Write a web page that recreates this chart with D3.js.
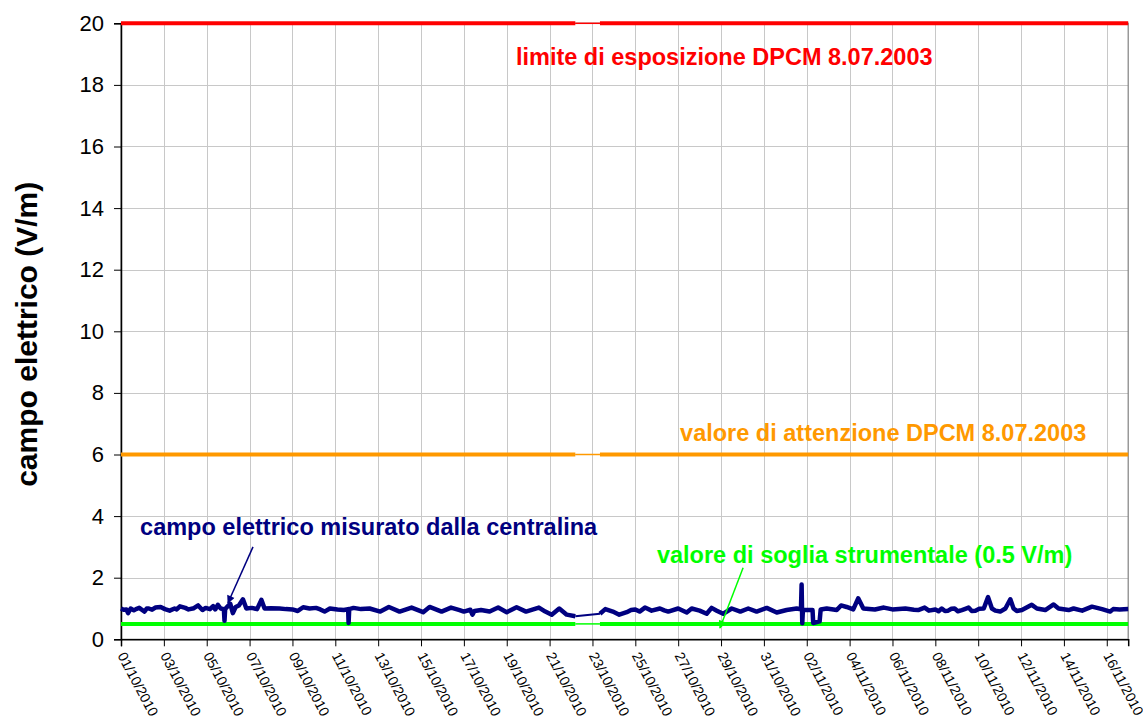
<!DOCTYPE html>
<html><head><meta charset="utf-8">
<script src="https://cdn.jsdelivr.net/npm/d3@7"></script>
<style>body{margin:0;background:#fff} text{font-family:"Liberation Sans",Arial,Helvetica,sans-serif}</style>
</head><body><svg id="chart" width="1143" height="724"></svg>
<script>
// ---- data ----
const startDate = "01/10/2010";
const endDay = 47; // axis ends at 17/11/2010 00:00
const tickLabels = ["01/10/2010","03/10/2010","05/10/2010","07/10/2010","09/10/2010","11/10/2010",
  "13/10/2010","15/10/2010","17/10/2010","19/10/2010","21/10/2010","23/10/2010","25/10/2010",
  "27/10/2010","29/10/2010","31/10/2010","02/11/2010","04/11/2010","06/11/2010","08/11/2010",
  "10/11/2010","12/11/2010","14/11/2010","16/11/2010"];
const yTicks = [0,2,4,6,8,10,12,14,16,18,20];

// measured field (days since 01/10/2010 00:00, V/m)
const fieldDays = [0,0.12,0.25,0.33,0.45,0.6,0.7,0.85,0.95,1.1,1.2,1.3,1.45,1.6,1.85,2.05,2.27,2.5,2.6,2.75,3.0,3.15,3.4,3.6,3.8,3.95,
  4.15,4.3,4.4,4.52,4.65,4.8,4.83,4.86,4.95,5.1,5.22,5.35,5.5,5.69,5.85,6.1,6.35,6.55,6.7,7.0,7.4,7.7,8.0,8.25,8.5,
  8.8,9.1,9.3,9.5,9.75,10.1,10.4,10.6,10.62,10.65,10.85,11.2,11.6,12.1,12.5,13.0,13.56,14.1,14.4,14.96,15.4,
  15.8,16.0,16.3,16.4,16.5,16.8,17.2,17.6,18.0,18.46,18.9,19.5,19.8,20.1,20.45,20.8,21.2,
  22.35,22.6,22.95,23.25,23.6,23.8,24.0,24.2,24.45,24.76,25.15,25.35,25.54,26.0,26.4,26.63,27.0,27.33,27.56,27.8,28.1,28.5,
  28.9,29.27,29.66,30.13,30.6,31.06,31.53,31.73,31.76,31.79,31.82,32.27,32.3,32.6,32.65,32.93,33.4,33.6,
  33.86,34.17,34.4,34.64,35.18,35.6,36.0,36.6,37.0,37.2,37.5,37.7,38.0,38.15,38.3,38.45,38.6,38.75,38.9,39.05,39.24,39.4,39.55,39.7,39.87,40.05,40.26,
  40.46,40.64,40.8,41.03,41.27,41.5,41.65,41.8,42.04,42.5,42.74,43.13,43.52,43.75,44.22,44.45,44.85,45.31,45.78,
  46.16,46.3,46.6,47.0];
const fieldValues = [1.00,0.96,0.97,0.85,1.00,0.94,0.98,1.02,0.97,0.90,1.00,1.00,0.96,1.03,1.05,0.98,0.93,1.00,0.97,1.07,1.02,0.97,1.01,1.10,0.95,1.02,
  0.98,1.08,0.97,1.12,1.00,0.98,0.60,0.98,1.05,1.15,0.85,1.05,1.10,1.30,1.00,1.02,0.98,1.28,1.00,1.01,1.00,0.98,0.97,0.92,1.04,
  1.00,1.02,0.97,0.90,1.00,0.97,0.95,0.98,0.53,0.98,1.02,0.98,1.00,0.90,1.05,0.90,1.03,0.88,1.05,0.90,1.03,
  0.95,0.90,0.96,0.80,0.92,0.95,0.90,1.03,0.88,1.04,0.90,1.03,0.90,0.80,1.00,0.80,0.75,
  0.83,0.98,0.90,0.80,0.88,0.95,0.97,0.90,1.03,0.93,1.00,0.94,0.90,1.00,0.87,1.00,0.93,0.83,1.02,0.93,0.83,1.00,
  0.90,1.00,0.90,1.02,0.87,0.95,1.00,0.97,1.78,0.52,0.95,0.95,0.53,0.58,0.97,1.00,0.95,1.10,
  1.05,0.97,1.33,1.00,0.97,1.03,0.97,1.00,0.96,0.95,1.03,0.93,0.97,0.91,1.00,0.92,0.93,0.99,1.00,0.91,0.95,0.99,1.03,0.92,0.93,0.99,1.00,
  1.37,1.00,0.93,0.90,1.00,1.30,1.00,0.92,0.95,1.12,1.00,0.95,1.13,1.00,0.95,1.00,0.93,1.06,0.98,
  0.90,0.98,0.97,0.98];

const exposureLimit = 20;        // limite di esposizione
const attentionValue = 6;        // valore di attenzione
const instrumentThreshold = 0.5; // soglia strumentale
const gapStart = 21.2, gapEnd = 22.35; // missing data interval

const labelTexts = {
  limit: "limite di esposizione DPCM 8.07.2003",
  attention: "valore di attenzione DPCM 8.07.2003",
  field: "campo elettrico misurato dalla centralina",
  threshold: "valore di soglia strumentale (0.5 V/m)"
};
const yTitle = "campo elettrico (V/m)";

// ---- chart ----
const svg = d3.select("#chart");
const W = 1143, H = 724;
const m = {left: 121, top: 23.3, right: 1143 - 1128.2, bottom: 724 - 639.3};
const parse = d3.utcParse("%d/%m/%Y");
const t0 = parse(startDate);
const dayToDate = d => new Date(t0.getTime() + d * 86400000);

const x = d3.scaleUtc().domain([t0, dayToDate(endDay)]).range([m.left, W - m.right]);
const y = d3.scaleLinear().domain([0, 20]).range([H - m.bottom, m.top]);
const tickDates = tickLabels.map(parse);

svg.append("rect").attr("width", W).attr("height", H).attr("fill", "#fff");

// grid
const grid = svg.append("g").attr("stroke", "#c8c8c8").attr("stroke-width", 1);
grid.selectAll(".gy").data(yTicks.filter(v => v > 0)).join("line")
  .attr("x1", m.left).attr("x2", W - m.right)
  .attr("y1", d => Math.round(y(d)) + 0.5).attr("y2", d => Math.round(y(d)) + 0.5);
grid.selectAll(".gx").data(tickDates.slice(1)).join("line")
  .attr("x1", d => Math.round(x(d)) + 0.5).attr("x2", d => Math.round(x(d)) + 0.5)
  .attr("y1", m.top).attr("y2", H - m.bottom);

// plot border
svg.append("rect").attr("x", m.left).attr("y", m.top)
  .attr("width", W - m.right - m.left).attr("height", H - m.bottom - m.top)
  .attr("fill", "none").attr("stroke", "#808080").attr("stroke-width", 1.2);

// axes
const yAxis = d3.axisLeft(y).tickValues(yTicks).tickSize(7).tickPadding(10);
const gy = svg.append("g").attr("transform", `translate(${m.left},0)`).call(yAxis);
gy.selectAll("text").attr("font-size", 22).attr("fill", "#000").attr("font-family", "'Liberation Sans',Arial,sans-serif");
gy.select(".domain").attr("stroke", "#000").attr("stroke-width", 1.5);
gy.selectAll(".tick line").attr("stroke", "#000");

const xAxis = d3.axisBottom(x).tickValues(tickDates).tickSize(7).tickFormat((d, i) => tickLabels[i]);
const gx = svg.append("g").attr("transform", `translate(0,${H - m.bottom})`).call(xAxis);
gx.select(".domain").attr("stroke", "#000").attr("stroke-width", 1.5);
gx.selectAll(".tick line").attr("stroke", "#000");
gx.selectAll("text").attr("font-size", 14).attr("fill", "#000")
  .attr("font-family", "'Liberation Sans',Arial,sans-serif")
  .attr("text-anchor", "start")
  .attr("transform", "translate(0,14) rotate(62)")
  .attr("x", 0).attr("y", 0).attr("dy", "0.35em");

// reference lines
const refLine = d3.line().x(d => x(dayToDate(d[0]))).y(d => y(d[1]));
function drawRef(v, color) {
  svg.append("path").datum([[0, v], [gapStart, v]]).attr("d", refLine)
    .attr("stroke", color).attr("stroke-width", 4).attr("fill", "none");
  svg.append("path").datum([[gapStart, v], [gapEnd, v]]).attr("d", refLine)
    .attr("stroke", color).attr("stroke-width", 1.5).attr("fill", "none");
  svg.append("path").datum([[gapEnd, v], [endDay, v]]).attr("d", refLine)
    .attr("stroke", color).attr("stroke-width", 4).attr("fill", "none");
}
drawRef(instrumentThreshold, "#00ff00");
drawRef(attentionValue, "#ff9900");
drawRef(exposureLimit, "#ff0000");

// measured field
const pts = fieldDays.map((d, i) => [d, fieldValues[i]]);
const lineGen = d3.line().x(d => x(dayToDate(d[0]))).y(d => y(d[1]));
svg.append("path").datum(pts.filter(p => p[0] <= gapStart)).attr("d", lineGen)
  .attr("stroke", "#000080").attr("stroke-width", 4.5).attr("fill", "none").attr("stroke-linejoin", "round");
svg.append("path").datum(pts.filter(p => p[0] >= gapStart && p[0] <= gapEnd)).attr("d", lineGen)
  .attr("stroke", "#000080").attr("stroke-width", 2).attr("fill", "none");
svg.append("path").datum(pts.filter(p => p[0] >= gapEnd)).attr("d", lineGen)
  .attr("stroke", "#000080").attr("stroke-width", 4.5).attr("fill", "none").attr("stroke-linejoin", "round");

// arrow markers
const defs = svg.append("defs");
[["navy", "#000080"], ["green", "#00ff00"]].forEach(([id, c]) => {
  defs.append("marker").attr("id", "arr-" + id).attr("viewBox", "0 0 10 10")
    .attr("refX", 9).attr("refY", 5).attr("markerWidth", 9).attr("markerHeight", 8)
    .attr("markerUnits", "userSpaceOnUse").attr("orient", "auto")
    .append("path").attr("d", "M0,0 L10,5 L0,10 z").attr("fill", c);
});
// annotation arrows (data coordinates)
svg.append("line")
  .attr("x1", x(dayToDate(6.16))).attr("y1", y(3.0))
  .attr("x2", x(dayToDate(4.99))).attr("y2", y(1.18))
  .attr("stroke", "#000080").attr("stroke-width", 1.5).attr("marker-end", "url(#arr-navy)");
svg.append("line")
  .attr("x1", x(dayToDate(29.03))).attr("y1", y(2.32))
  .attr("x2", x(dayToDate(27.95))).attr("y2", y(0.37))
  .attr("stroke", "#00ff00").attr("stroke-width", 1.5).attr("marker-end", "url(#arr-green)");

// annotation labels
function label(txt, d, v, color) {
  svg.append("text").attr("x", x(dayToDate(d))).attr("y", y(v))
    .attr("font-size", 23.5).attr("font-weight", "bold").attr("fill", color).text(txt);
}
label(labelTexts.limit, 18.43, 18.65, "#ff0000");
label(labelTexts.attention, 26.09, 6.44, "#ff9900");
label(labelTexts.field, 0.89, 3.39, "#000080");
label(labelTexts.threshold, 25.01, 2.47, "#00ff00");

// y title
svg.append("text").attr("transform", `translate(37,${(m.top + H - m.bottom) / 2 + 3}) rotate(-90)`)
  .attr("text-anchor", "middle").attr("font-size", 30).attr("font-weight", "bold")
  .attr("fill", "#000").text(yTitle);
</script></body></html>
